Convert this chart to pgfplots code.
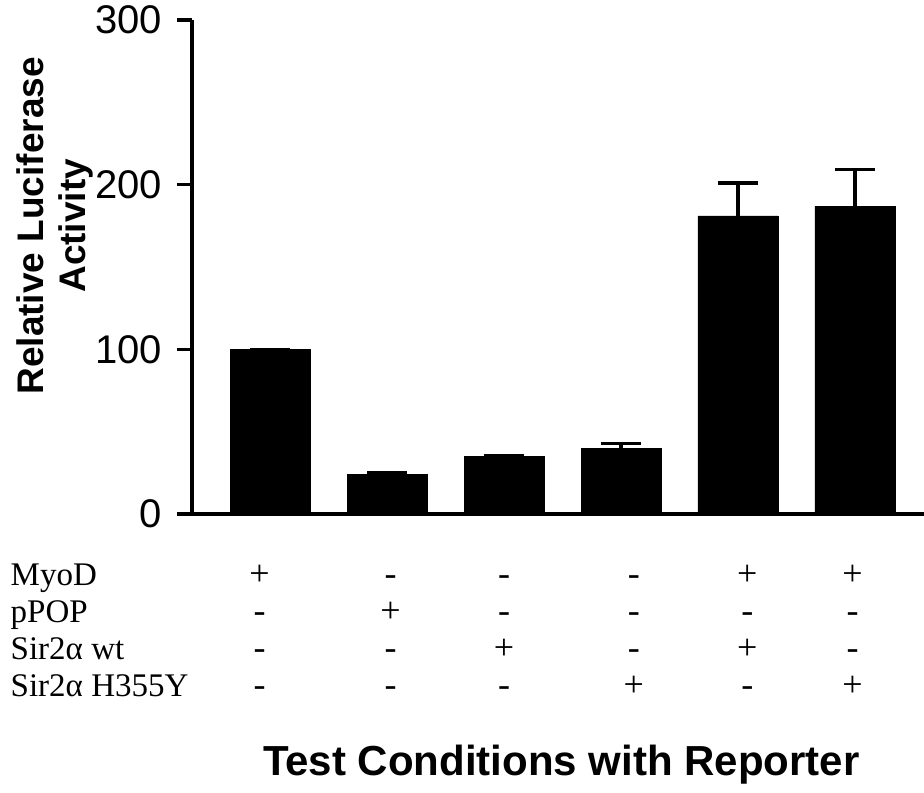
\documentclass[border=0pt]{standalone}
\usepackage{fontspec}
\setmainfont{Liberation Sans}
\newfontfamily\seriffont{Liberation Serif}
\usepackage{pgfplots}
\pgfplotsset{compat=1.18}
\newcommand\cell[3]{\node[anchor=base, font=\seriffont\fontsize{18}{18}\selectfont] at (axis cs:#1,#2) {#3};}
\newcommand\rowlab[2]{\node[anchor=base west, inner xsep=0pt, font=\seriffont\fontsize{16.5}{16.5}\selectfont] at (axis cs:-2.22,#1) {#2};}
\begin{document}
\begin{tikzpicture}
\path[use as bounding box] (-96pt,-139pt) rectangle (366pt,257pt);
\begin{axis}[
  scale only axis, width=366pt, height=247pt,
  at={(0,0)}, anchor=south west,
  xmin=-0.667, xmax=5.59, ymin=0, ymax=300,
  axis x line=bottom, axis y line=left,
  axis line style={-, line width=1.6pt},
  ytick={0,100,200,300}, xtick=\empty,
  tick align=outside, major tick length=7.5pt,
  tick style={line width=1.6pt, black},
  yticklabel style={font=\fontsize{20}{20}\selectfont, xshift=-4pt},
  /pgf/number format/assume math mode=true,
  clip=false,
  ybar, bar width=40pt, bar shift=0pt,
]
\addplot[fill=black, draw=black,
  error bars/.cd, y dir=plus, y explicit,
  error bar style={line width=1.6pt, black},
  error mark options={rotate=90, mark size=10pt, line width=1.6pt, black}]
coordinates {(0,100) +- (0,0) (1,24) +- (0,1) (2,35) +- (0,0.5) (3,40) +- (0,3) (4,181) +- (0,20) (5,187) +- (0,22)};

\node[rotate=90, align=center, font=\bfseries\fontsize{18.5}{21}\selectfont] at (axis cs:-1.84,175) {Relative Luciferase\\Activity};
\node[font=\bfseries\fontsize{21}{21}\selectfont] at (axis cs:2.49,-152) {Test Conditions with Reporter};

\rowlab{-43.6}{MyoD}
\rowlab{-66.1}{pPOP}
\rowlab{-88.5}{Sir2α wt}
\rowlab{-110.9}{Sir2α H355Y}

\cell{-0.09}{-43.6}{+}\cell{1.03}{-43.6}{-}\cell{2.0}{-43.6}{-}\cell{3.11}{-43.6}{-}\cell{4.08}{-43.6}{+}\cell{4.98}{-43.6}{+}
\cell{-0.09}{-66.1}{-}\cell{1.03}{-66.1}{+}\cell{2.0}{-66.1}{-}\cell{3.11}{-66.1}{-}\cell{4.08}{-66.1}{-}\cell{4.98}{-66.1}{-}
\cell{-0.09}{-88.5}{-}\cell{1.03}{-88.5}{-}\cell{2.0}{-88.5}{+}\cell{3.11}{-88.5}{-}\cell{4.08}{-88.5}{+}\cell{4.98}{-88.5}{-}
\cell{-0.09}{-110.9}{-}\cell{1.03}{-110.9}{-}\cell{2.0}{-110.9}{-}\cell{3.11}{-110.9}{+}\cell{4.08}{-110.9}{-}\cell{4.98}{-110.9}{+}
\end{axis}
\end{tikzpicture}
\end{document}
